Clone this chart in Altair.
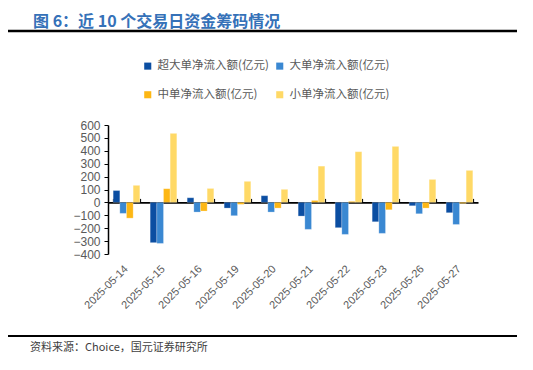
import altair as alt
import pandas as pd

dates = ["2025-05-14", "2025-05-15", "2025-05-16", "2025-05-19", "2025-05-20",
         "2025-05-21", "2025-05-22", "2025-05-23", "2025-05-26", "2025-05-27"]
series = ["超大单净流入额(亿元)", "大单净流入额(亿元)", "中单净流入额(亿元)", "小单净流入额(亿元)"]
colors = ["#0B4EA2", "#3A88D2", "#FDB714", "#FFD966"]
super_large = [92, -312, 36, -44, 52, -106, -196, -150, -26, -80]
large = [-85, -318, -75, -103, -75, -209, -248, -240, -88, -171]
medium = [-122, 106, -67, -15, -44, 15, 8, -57, -44, -8]
small = [132, 535, 108, 163, 101, 281, 393, 434, 178, 248]
y_ticks = list(range(-400, 700, 100))
title_text = "图 6：近 10 个交易日资金筹码情况"
source_text = "资料来源：Choice，国元证券研究所"

rows = []
for s, vals in zip(series, [super_large, large, medium, small]):
    for d, v in zip(dates, vals):
        rows.append({"date": d, "series": s, "value": v})
df = pd.DataFrame(rows)

W, H = 370, 129
zero_pos = H * 600 / 1000

xscale = alt.Scale(domain=dates, paddingInner=0.28, paddingOuter=0.14)
yscale = alt.Scale(domain=[-400, 600], nice=False, zero=False)

bars = alt.Chart(df).mark_bar(stroke="white", strokeWidth=0.4, strokeOpacity=0.6).encode(
    x=alt.X("date:N", scale=xscale, sort=dates,
            axis=alt.Axis(title=None, orient="bottom", labelAngle=-45, labelAlign="right",
                          labelBaseline="middle", labelPadding=13, domain=False, ticks=False,
                          labelFont="Liberation Sans", labelFontSize=11, labelColor="#595959")),
    xOffset=alt.XOffset("series:N", sort=series, scale=alt.Scale(paddingInner=0, paddingOuter=0)),
    y=alt.Y("value:Q", scale=yscale,
            axis=alt.Axis(title=None, values=y_ticks, grid=False, domainColor="black",
                          domainWidth=1.5, tickColor="black", tickSize=4, labelPadding=4,
                          labelOverlap=False, labelBaseline="middle",
                          labelFont="Liberation Sans", labelFontSize=12, labelColor="#595959")),
    color=alt.Color("series:N", sort=series, scale=alt.Scale(domain=series, range=colors),
                    legend=alt.Legend(title=None, orient="none", legendX=34, legendY=-65,
                                      columns=2, direction="horizontal", symbolType="square",
                                      symbolSize=50, symbolStrokeWidth=0,
                                      labelFont="Noto Sans CJK SC",
                                      labelFontSize=11.5, labelColor="#595959",
                                      rowPadding=16, columnPadding=5, labelLimit=300)),
)

zero_axis = alt.Chart(pd.DataFrame({"date": dates})).mark_point(opacity=0).encode(
    x=alt.X("date:N", scale=xscale, sort=dates,
            axis=alt.Axis(title=None, orient="top", offset=-zero_pos, labels=False,
                          domainColor="black", domainWidth=1.6, tickColor="black",
                          tickSize=4, tickWidth=1.2, tickBand="extent")),
)

def txt(s, x, y, **kw):
    return alt.Chart(pd.DataFrame({"t": [s]})).mark_text(align="left", baseline="middle", **kw).encode(
        text="t:N", x=alt.value(x), y=alt.value(y))

def rule(x1, x2, y, w):
    return alt.Chart(pd.DataFrame({"a": [0]})).mark_rule(color="black", strokeWidth=w).encode(
        x=alt.value(x1), x2=alt.value(x2), y=alt.value(y))

title = txt(title_text, -75, -103, font="Noto Sans CJK SC", fontSize=16, fontWeight="bold",
            color="#3571B8")
src = txt(source_text, -78, 223, font="Noto Sans CJK SC", fontSize=11, color="#404040")

chart = alt.layer(bars, zero_axis, title, src,
                  rule(-100, 409, -94, 2.5), rule(-100, 409, 211, 2.2)).resolve_axis(
    x="independent").properties(
    width=W, height=H, autosize=alt.AutoSizeParams(type="none"),
    padding={"left": 100, "top": 117, "right": 47, "bottom": 100},
).configure_view(stroke=None)

chart.save("out.html", embed_options={"renderer": "svg", "actions": False})
